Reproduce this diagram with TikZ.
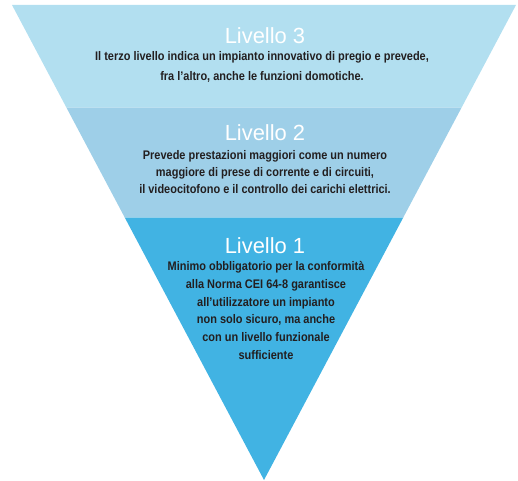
\documentclass[tikz,border=0pt]{standalone}
\usepackage{fontspec}
\setmainfont{Liberation Sans}
\newfontfamily\headfont{Liberation Sans}
\newfontfamily\bodyfont[FakeStretch=0.88]{Liberation Sans}
\usetikzlibrary{calc}
\definecolor{lvthree}{HTML}{B2DFF0}
\definecolor{lvtwo}{HTML}{9ECFE8}
\definecolor{lvone}{HTML}{41B3E3}
\definecolor{bodytxt}{HTML}{231F20}
\tikzset{
  headtxt/.style={font=\headfont\fontsize{22}{24}\selectfont, text=white, anchor=base, inner sep=0pt},
  bodyblk/.style={font=\bodyfont\bfseries\fontsize{12.5}{#1}\selectfont, text=bodytxt, align=center, anchor=base, inner sep=0pt},
}
\begin{document}
\begin{tikzpicture}[x=1bp,y=-1bp]
\useasboundingbox (0,0) rectangle (518,481);
\coordinate (tl) at (12,5);
\coordinate (tr) at (516,5);
\coordinate (ap) at (264,480);
\coordinate (l3) at ($(tl)!0.2158!(ap)$);
\coordinate (r3) at ($(tr)!0.2158!(ap)$);
\coordinate (l2) at ($(tl)!0.4474!(ap)$);
\coordinate (r2) at ($(tr)!0.4474!(ap)$);
\fill[lvthree] (tl) -- (tr) -- (r3) -- (l3) -- cycle;
\fill[lvtwo] (l3) -- (r3) -- (r2) -- (l2) -- cycle;
\fill[lvone] (l2) -- (r2) -- (ap) -- cycle;
\node[headtxt] (h3) at (265,43.3) {Livello 3};
\node[bodyblk=20.7] (b3) at (262,80.7) {Il terzo livello indica un impianto innovativo di pregio e prevede,\\fra l’altro, anche le funzioni domotiche.};
\node[headtxt] (h2) at (265,140.7) {Livello 2};
\node[bodyblk=17.4] (b2) at (265,194) {Prevede prestazioni maggiori come un numero\\maggiore di prese di corrente e di circuiti,\\il videocitofono e il controllo dei carichi elettrici.};
\node[headtxt] (h1) at (265,253.3) {Livello 1};
\node[bodyblk=17.8] (b1) at (266,359.3) {Minimo obbligatorio per la conformità\\alla Norma CEI 64-8 garantisce\\all’utilizzatore un impianto\\non solo sicuro, ma anche\\con un livello funzionale\\sufficiente};
\end{tikzpicture}
\end{document}
